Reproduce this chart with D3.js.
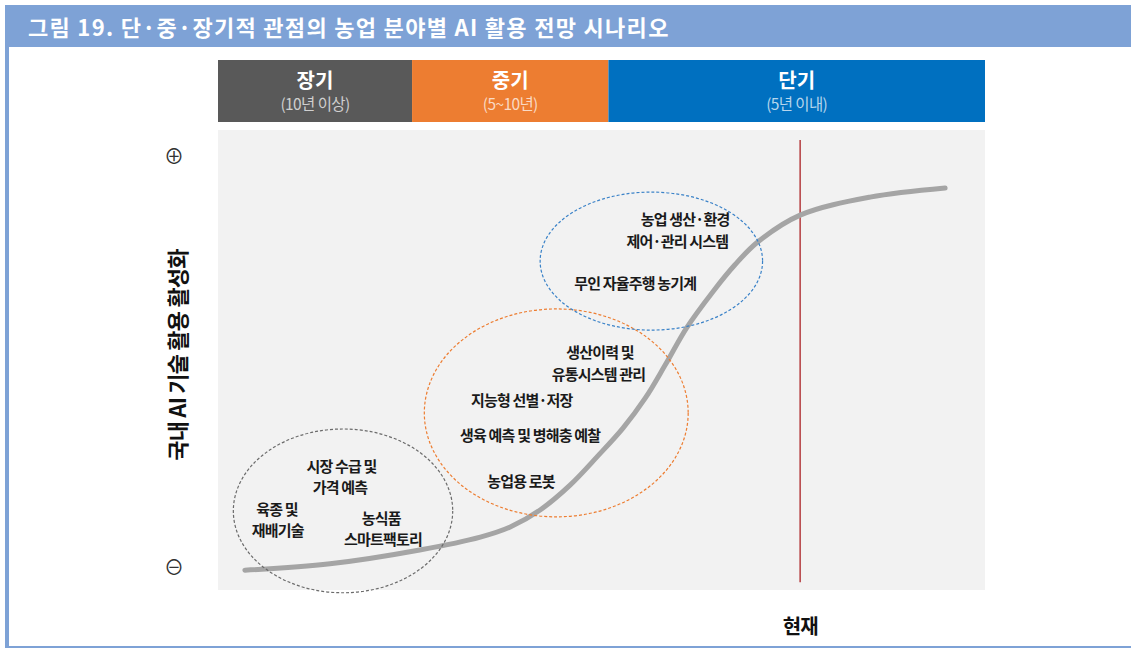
<!DOCTYPE html>
<html>
<head>
<meta charset="utf-8">
<script src="https://cdn.jsdelivr.net/npm/d3@7"></script>
<style>
  body { margin: 0; background: #fff; }
  text { font-family: "Noto Sans CJK KR", "Noto Sans", sans-serif; }
</style>
</head>
<body>
<div id="chart"></div>
<script>
// term bands (x domain 0..100, abstract time axis)
const bands = [
    { name: '장기', sub: '(10년 이상)', x0: 0, x1: 25.3, color: '#595959' },
    { name: '중기', sub: '(5~10년)', x0: 25.3, x1: 50.9, color: '#ed7d31' },
    { name: '단기', sub: '(5년 이내)', x0: 50.9, x1: 100, color: '#0070c0' }
];

// S-curve of AI adoption
const curveX = [3.5, 14.6, 26.3, 34.2, 38.1, 42.0, 45.9, 49.5, 52.8, 55.7, 58.3, 61.1, 64.5, 67.4, 70.4, 75.9, 85.0, 94.8];
const curveY = [4.3, 5.7, 8.7, 11.5, 13.7, 17.4, 22.8, 29.1, 35.2, 41.7, 48.9, 57.0, 64.8, 70.7, 75.7, 81.5, 85.4, 87.4];

const nowX = 75.9;

// groups (ellipses)
const groups = [
    { cx: 16.3, cy: 17.2, rx: 14.3, ry: 17.8, color: '#6b6b6b' },
    { cx: 44.1, cy: 38.5, rx: 17.2, ry: 22.6, color: '#ed7d31' },
    { cx: 56.5, cy: 71.5, rx: 14.5, ry: 15.0, color: '#3a82c8' }
];

// item labels
const items = [
    { t: '농업 생산·환경', x: 60.9, y: 79.3 },
    { t: '제어·관리 시스템', x: 59.9, y: 74.6 },
    { t: '무인 자율주행 농기계', x: 54.4, y: 65.4 },
    { t: '생산이력 및', x: 49.8, y: 50.4 },
    { t: '유통시스템 관리', x: 49.6, y: 45.7 },
    { t: '지능형 선별·저장', x: 39.6, y: 40.0 },
    { t: '생육 예측 및 병해충 예찰', x: 40.7, y: 32.4 },
    { t: '농업용 로봇', x: 39.5, y: 22.4 },
    { t: '시장 수급 및', x: 16.1, y: 25.7 },
    { t: '가격 예측', x: 15.9, y: 21.1 },
    { t: '육종 및', x: 7.7, y: 16.3 },
    { t: '재배기술', x: 7.8, y: 11.7 },
    { t: '농식품', x: 21.3, y: 14.3 },
    { t: '스마트팩토리', x: 21.5, y: 9.8 }
];

const title = '그림 19. 단·중·장기적 관점의 농업 분야별 AI 활용 전망 시나리오';
const yLabel = '국내 AI 기술 활용 활성화';

const W = 1131, H = 648;
const plot = { left: 218, right: 985, top: 130, bottom: 590 };

const svg = d3.select('#chart').append('svg')
    .attr('width', W)
    .attr('height', H);

// frame
svg.append('rect')
    .attr('x', 5).attr('y', 5).attr('width', W - 5).attr('height', 42)
    .attr('fill', '#7ea2d6');
svg.append('rect')
    .attr('x', 5).attr('y', 47).attr('width', 4).attr('height', H - 47)
    .attr('fill', '#7ea2d6');
svg.append('rect')
    .attr('x', 5).attr('y', H - 2).attr('width', W - 5).attr('height', 2)
    .attr('fill', '#7ea2d6');

svg.append('text')
    .attr('x', 28).attr('y', 36)
    .attr('fill', '#fff')
    .attr('font-size', 22)
    .attr('font-weight', 700)
    .attr('letter-spacing', 1.3)
    .text(title);

const x = d3.scaleLinear().domain([0, 100]).range([plot.left, plot.right]);
const y = d3.scaleLinear().domain([0, 100]).range([plot.bottom, plot.top]);

// plot background
svg.append('rect')
    .attr('x', x(0)).attr('y', y(100))
    .attr('width', x(100) - x(0)).attr('height', y(0) - y(100))
    .attr('fill', '#f2f2f2');

// term header bands
const bandG = svg.selectAll('.band')
    .data(bands)
    .join('g')
    .attr('class', 'band');

bandG.append('rect')
    .attr('x', d => x(d.x0))
    .attr('y', 60)
    .attr('width', d => x(d.x1) - x(d.x0))
    .attr('height', 62)
    .attr('fill', d => d.color);

bandG.append('text')
    .attr('x', d => (x(d.x0) + x(d.x1)) / 2)
    .attr('y', 88)
    .attr('text-anchor', 'middle')
    .attr('fill', '#fff')
    .attr('font-size', 20)
    .attr('font-weight', 700)
    .text(d => d.name);

bandG.append('text')
    .attr('x', d => (x(d.x0) + x(d.x1)) / 2)
    .attr('y', 110)
    .attr('text-anchor', 'middle')
    .attr('fill', '#fff')
    .attr('fill-opacity', 0.72)
    .attr('font-size', 15.5)
    .attr('letter-spacing', -0.6)
    .text(d => d.sub);

// now line
svg.append('line')
    .attr('x1', x(nowX)).attr('x2', x(nowX))
    .attr('y1', y(97.8)).attr('y2', y(1.7))
    .attr('stroke', '#b8474a')
    .attr('stroke-width', 1.6);

svg.append('text')
    .attr('x', x(nowX)).attr('y', 634)
    .attr('text-anchor', 'middle')
    .attr('font-size', 20)
    .attr('font-weight', 700)
    .attr('letter-spacing', -1)
    .attr('fill', '#111')
    .text('현재');

// adoption curve
const pts = curveX.map((v, i) => [v, curveY[i]]);
const line = d3.line()
    .x(d => x(d[0]))
    .y(d => y(d[1]))
    .curve(d3.curveCatmullRom.alpha(0.5));

svg.append('path')
    .datum(pts)
    .attr('d', line)
    .attr('fill', 'none')
    .attr('stroke', '#a5a5a5')
    .attr('stroke-width', 5)
    .attr('stroke-linecap', 'round');

// group ellipses
svg.selectAll('.group')
    .data(groups)
    .join('ellipse')
    .attr('class', 'group')
    .attr('cx', d => x(d.cx))
    .attr('cy', d => y(d.cy))
    .attr('rx', d => x(d.rx) - x(0))
    .attr('ry', d => y(0) - y(d.ry))
    .attr('fill', 'none')
    .attr('stroke', d => d.color)
    .attr('stroke-width', 1.2)
    .attr('stroke-dasharray', '3,2');

// item labels
svg.selectAll('.item')
    .data(items)
    .join('text')
    .attr('class', 'item')
    .attr('x', d => x(d.x))
    .attr('y', d => y(d.y))
    .attr('text-anchor', 'middle')
    .attr('font-size', 15)
    .attr('font-weight', 700)
    .attr('letter-spacing', -0.8)
    .attr('fill', '#1a1a1a')
    .text(d => d.t);

// y axis markers
svg.append('text')
    .attr('x', 174).attr('y', 164)
    .attr('text-anchor', 'middle')
    .attr('font-family', 'DejaVu Sans')
    .attr('font-size', 20)
    .attr('fill', '#333')
    .text('⊕');

svg.append('text')
    .attr('x', 174).attr('y', 575)
    .attr('text-anchor', 'middle')
    .attr('font-family', 'DejaVu Sans')
    .attr('font-size', 20)
    .attr('fill', '#333')
    .text('⊖');

svg.append('text')
    .attr('transform', 'translate(186,355) rotate(-90)')
    .attr('text-anchor', 'middle')
    .attr('font-size', 22)
    .attr('font-weight', 700)
    .attr('letter-spacing', -0.8)
    .attr('fill', '#111')
    .text(yLabel);
</script>
</body>
</html>
